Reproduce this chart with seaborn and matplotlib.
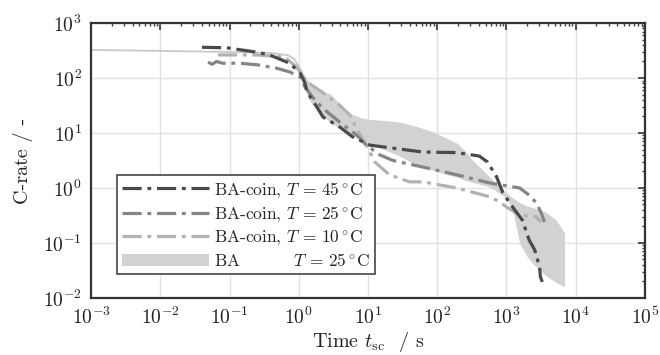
import numpy as np
import pandas as pd
import matplotlib
matplotlib.use("Agg")
import matplotlib.pyplot as plt
import seaborn as sns
from matplotlib.patches import Patch
from matplotlib.lines import Line2D

# ---- data ----
t45 = [0.040, 0.091, 0.25, 0.38, 0.74, 1.05, 1.23, 1.32, 1.82, 2.24, 3.9, 6.0, 10.7, 20.4,
       62, 190, 407, 537, 724, 891, 1230, 1700, 2140, 2570, 3020, 3100, 3310]
c45 = [363, 355, 295, 263, 186, 123, 81, 56, 30, 19.5, 12.9, 8.5, 6.0, 5.4,
       4.5, 4.4, 3.8, 2.95, 1.58, 0.81, 0.45, 0.26, 0.112, 0.074, 0.036, 0.024, 0.0195]

t25 = [0.049, 0.056, 0.065, 0.079, 0.14, 0.25, 0.48, 0.74, 1.05, 1.23, 1.58, 2.24, 3.9, 6.9,
       9.5, 14.8, 22.9, 62, 190, 575, 1550, 2140, 2690, 3160, 3550]
c25 = [195, 178, 200, 186, 186, 174, 151, 129, 105, 69, 45, 28, 15.8, 9.1,
       6.0, 4.0, 3.16, 2.4, 1.74, 1.23, 1.0, 0.74, 0.54, 0.36, 0.24]

t10 = [0.068, 0.112, 0.25, 0.63, 0.93, 1.32, 2.24, 3.9, 5.5, 7.2, 9.1, 12.6, 20.4, 40, 62,
       190, 575, 794, 1000, 1550, 2690, 3160]
c10 = [263, 263, 263, 240, 158, 85, 54, 32, 21, 10.5, 6.6, 2.95, 1.74, 1.29, 1.29,
       1.0, 0.69, 0.56, 0.45, 0.32, 0.30, 0.24]

t_ba_line = [0.001, 0.01, 0.1, 0.4, 0.7, 0.85, 1.0, 1.2, 1.5]
c_ba_line = [324, 312, 298, 285, 260, 225, 165, 105, 72]

t_band = [0.89, 1.12, 1.41, 2.0, 2.82, 3.98, 5.62, 7.94, 10, 15.8, 28.8, 50, 87, 141, 191, 251,
          324, 427, 575, 759, 1000, 1230, 1550, 2000, 2400, 3020, 3800, 5250, 6920]
c_band_hi = [200, 120, 74, 58, 52, 33, 22.4, 19, 17.8, 17, 15.8, 13.2, 10.5, 7.9, 6.6, 4.8,
             3.2, 2.3, 1.58, 1.12, 0.81, 0.66, 0.54, 0.47, 0.44, 0.40, 0.355, 0.26, 0.15]
c_band_lo = [178, 89, 40, 22.4, 15.8, 12, 9.3, 7.6, 6.6, 5.2, 3.8, 2.6, 2.1, 1.74, 1.58, 1.38,
             1.26, 1.15, 1.05, 0.83, 0.66, 0.40, 0.10, 0.056, 0.042, 0.032, 0.025, 0.019, 0.016]

labels = [r"BA-coin, $T\,=\,45\,^{\circ}\mathrm{C}$",
          r"BA-coin, $T\,=\,25\,^{\circ}\mathrm{C}$",
          r"BA-coin, $T\,=\,10\,^{\circ}\mathrm{C}$",
          r"BA$\qquad\quad\;\;T\,=\,25\,^{\circ}\mathrm{C}$"]
xticks = [1e-3, 1e-2, 1e-1, 1e0, 1e1, 1e2, 1e3, 1e4, 1e5]
yticks = [1e-2, 1e-1, 1e0, 1e1, 1e2, 1e3]

# ---- style ----
sns.set_style("white")
plt.rcParams.update({
    "font.family": ["serif"],
    "font.serif": ["cmr10", "DejaVu Serif"],
    "mathtext.fontset": "cm",
    "axes.formatter.use_mathtext": True,
    "axes.unicode_minus": False,
    "font.size": 13,
})

col45, col25, col10 = "#4a4a4a", "#858585", "#b2b2b2"
band_col = "#d2d2d2"
dash = (0, (6, 1.8, 1.2, 1.8))

fig = plt.figure(figsize=(6.6, 3.55), dpi=100)
ax = fig.add_axes([0.138, 0.161, 0.839, 0.774])
ax.set_xscale("log")
ax.set_yscale("log")

ax.fill_between(t_band, c_band_lo, c_band_hi, color=band_col, lw=0, zorder=1)
sns.lineplot(x=t_ba_line, y=c_ba_line, color="#c8c8c8", lw=1.3, ax=ax, zorder=2)
sns.lineplot(x=t10, y=c10, color=col10, lw=2.3, linestyle=dash, ax=ax, zorder=3)
sns.lineplot(x=t25, y=c25, color=col25, lw=2.3, linestyle=dash, ax=ax, zorder=4)
sns.lineplot(x=t45, y=c45, color=col45, lw=2.3, linestyle=dash, ax=ax, zorder=5)

ax.set_xlim(1e-3, 1e5)
ax.set_ylim(1e-2, 1e3)
ax.set_xticks(xticks)
ax.set_yticks(yticks)
ax.grid(True, which="major", color="#e2e2e2", lw=1.0)
ax.set_axisbelow(True)
for s in ax.spines.values():
    s.set_color("#333333")
    s.set_linewidth(1.6)
ax.tick_params(which="both", direction="in", top=True, right=True, colors="#333333",
               labelcolor="#222222", labelsize=14)
ax.tick_params(which="major", length=5, width=1.2, pad=6.5)
ax.tick_params(which="minor", length=2.5, width=1.0)
ax.set_xlabel(r"Time $t_{\mathrm{sc}}$  / s", fontsize=14.5, color="#222222", labelpad=1.5)
ax.set_ylabel("C-rate / -", fontsize=14.5, color="#222222", labelpad=7)

handles = [Line2D([], [], color=col45, lw=2.3, linestyle=dash),
           Line2D([], [], color=col25, lw=2.3, linestyle=dash),
           Line2D([], [], color=col10, lw=2.3, linestyle=dash),
           Patch(facecolor=band_col, edgecolor="none")]
leg = ax.legend(handles, labels, loc="upper left", bbox_to_anchor=(0.047, 0.448),
                frameon=True, fancybox=False, framealpha=1, edgecolor="#444444",
                handlelength=5.0, handletextpad=0.3, borderpad=0.3, labelspacing=0.25,
                fontsize=12.5, borderaxespad=0)
leg.get_frame().set_linewidth(1.2)

fig.savefig("out.png", dpi=100)
